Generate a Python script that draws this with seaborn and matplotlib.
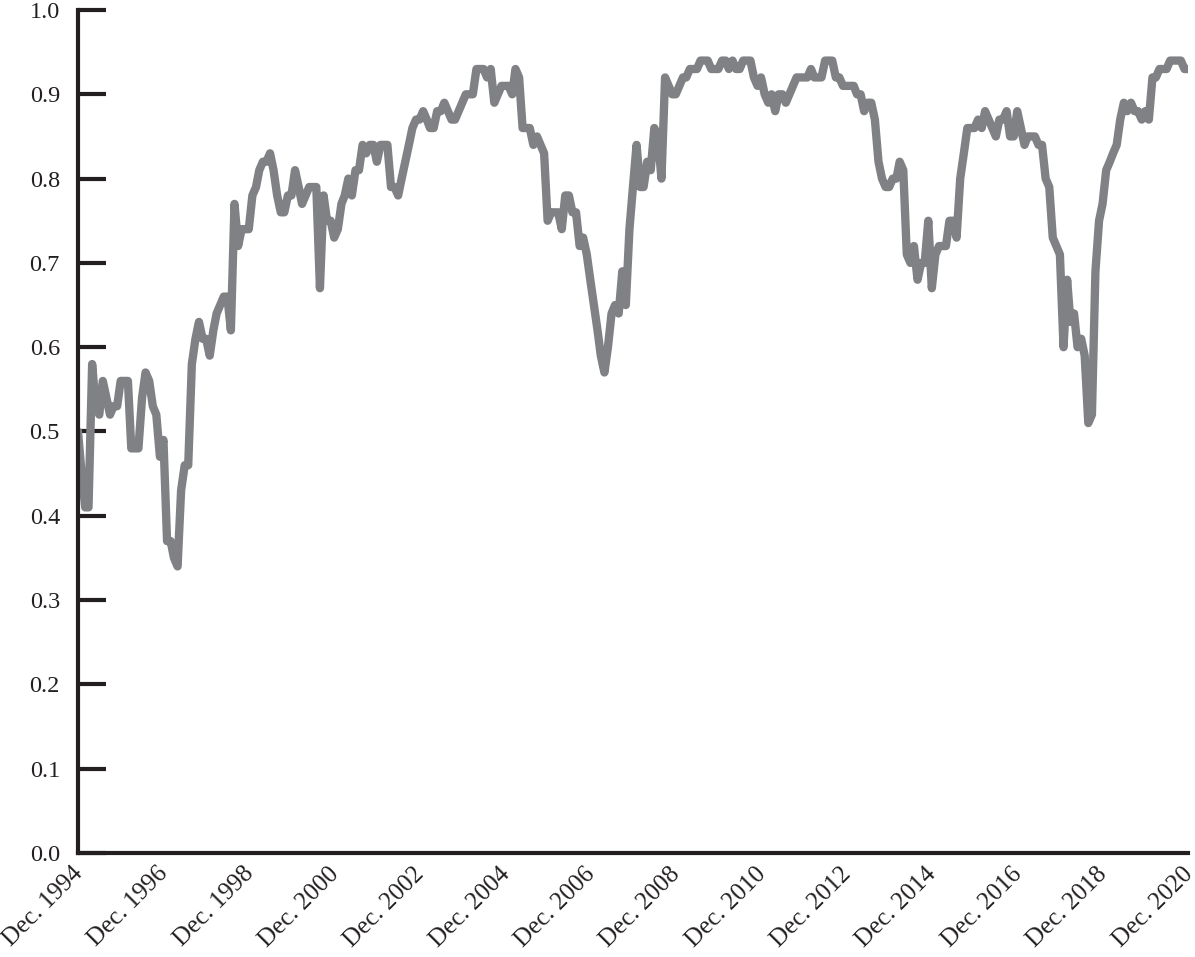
import pandas as pd
import numpy as np
import matplotlib
matplotlib.use('Agg')
import matplotlib.pyplot as plt
import matplotlib.transforms as mtransforms
import seaborn as sns

# monthly values, Dec. 1994 .. Dec. 2020
values = [
    0.50, 0.45, 0.41, 0.41, 0.58, 0.53, 0.52, 0.56, 0.54, 0.52, 0.53, 0.53,
    0.56, 0.56, 0.56, 0.48, 0.48, 0.48, 0.54, 0.57, 0.56, 0.53, 0.52, 0.47,
    0.49, 0.37, 0.37, 0.35, 0.34, 0.43, 0.46, 0.46, 0.58, 0.61, 0.63, 0.61,
    0.61, 0.59, 0.62, 0.64, 0.65, 0.66, 0.66, 0.62, 0.77, 0.72, 0.74, 0.74,
    0.74, 0.78, 0.79, 0.81, 0.82, 0.82, 0.83, 0.81, 0.78, 0.76, 0.76, 0.78,
    0.78, 0.81, 0.79, 0.77, 0.78, 0.79, 0.79, 0.79, 0.67, 0.78, 0.75, 0.75,
    0.73, 0.74, 0.77, 0.78, 0.80, 0.78, 0.81, 0.81, 0.84, 0.83, 0.84, 0.84,
    0.82, 0.84, 0.84, 0.84, 0.79, 0.79, 0.78, 0.80, 0.82, 0.84, 0.86, 0.87,
    0.87, 0.88, 0.87, 0.86, 0.86, 0.88, 0.88, 0.89, 0.88, 0.87, 0.87, 0.88,
    0.89, 0.90, 0.90, 0.90, 0.93, 0.93, 0.93, 0.92, 0.93, 0.89, 0.90, 0.91,
    0.91, 0.91, 0.90, 0.93, 0.92, 0.86, 0.86, 0.86, 0.84, 0.85, 0.84, 0.83,
    0.75, 0.76, 0.76, 0.76, 0.74, 0.78, 0.78, 0.76, 0.76, 0.72, 0.73, 0.71,
    0.68, 0.65, 0.62, 0.59, 0.57, 0.60, 0.64, 0.65, 0.64, 0.69, 0.65, 0.74,
    0.79, 0.84, 0.79, 0.79, 0.82, 0.81, 0.86, 0.85, 0.80, 0.92, 0.91, 0.90,
    0.90, 0.91, 0.92, 0.92, 0.93, 0.93, 0.93, 0.94, 0.94, 0.94, 0.93, 0.93,
    0.93, 0.94, 0.94, 0.93, 0.94, 0.93, 0.93, 0.94, 0.94, 0.94, 0.92, 0.91,
    0.92, 0.90, 0.89, 0.90, 0.88, 0.90, 0.90, 0.89, 0.90, 0.91, 0.92, 0.92,
    0.92, 0.92, 0.93, 0.92, 0.92, 0.92, 0.94, 0.94, 0.94, 0.92, 0.92, 0.91,
    0.91, 0.91, 0.91, 0.90, 0.90, 0.88, 0.89, 0.89, 0.87, 0.82, 0.80, 0.79,
    0.79, 0.80, 0.80, 0.82, 0.81, 0.71, 0.70, 0.72, 0.68, 0.70, 0.70, 0.75,
    0.67, 0.71, 0.72, 0.72, 0.72, 0.75, 0.75, 0.73, 0.80, 0.83, 0.86, 0.86,
    0.86, 0.87, 0.86, 0.88, 0.87, 0.86, 0.85, 0.87, 0.87, 0.88, 0.85, 0.85,
    0.88, 0.86, 0.84, 0.85, 0.85, 0.85, 0.84, 0.84, 0.80, 0.79, 0.73, 0.72,
    0.71, 0.60, 0.68, 0.63, 0.64, 0.60, 0.61, 0.59, 0.51, 0.52, 0.69, 0.75,
    0.77, 0.81, 0.82, 0.83, 0.84, 0.87, 0.89, 0.88, 0.89, 0.88, 0.88, 0.87,
    0.88, 0.87, 0.92, 0.92, 0.93, 0.93, 0.93, 0.94, 0.94, 0.94, 0.94, 0.93,
    0.93,
]
dates = pd.date_range('1994-12-01', periods=len(values), freq='MS')

tick_years = list(range(1994, 2021, 2))
tick_labels = [f'Dec. {y}' for y in tick_years]
y_ticks = [0.0, 0.1, 0.2, 0.3, 0.4, 0.5, 0.6, 0.7, 0.8, 0.9, 1.0]

df = pd.DataFrame({'date': dates, 'value': values})

sns.set_theme(style='white')
plt.rcParams['font.family'] = ['Liberation Serif', 'DejaVu Serif']

ink = '#231f20'

fig = plt.figure(figsize=(11.95, 9.57), dpi=100)
ax = fig.add_axes([78 / 1195, 1 - 853 / 957, 1110 / 1195, 843 / 957])

sns.lineplot(data=df, x='date', y='value', ax=ax, color='#808184',
             linewidth=6.0, solid_joinstyle='round', solid_capstyle='round')

ax.set_xlim(dates[0], dates[-1])
ax.set_ylim(0, 1.0)
ax.set_xlabel('')
ax.set_ylabel('')

ax.set_yticks(y_ticks)
ax.set_yticklabels([f'{v:.1f}' for v in y_ticks])
ax.set_xticks([pd.Timestamp(f'{y}-12-01') for y in tick_years])
ax.set_xticklabels(tick_labels)

for s in ['top', 'right']:
    ax.spines[s].set_visible(False)
for s in ['left', 'bottom']:
    ax.spines[s].set_color(ink)
    ax.spines[s].set_linewidth(3.0)
    ax.spines[s].set_capstyle('projecting')

ax.tick_params(axis='y', direction='in', length=20, width=3.0, color=ink,
               labelsize=17.5, labelcolor=ink, pad=13, left=True)
ax.tick_params(axis='x', length=0, labelsize=18, labelcolor=ink, pad=7,
               bottom=True)

offset = mtransforms.ScaledTranslation(9 / 100, 0, fig.dpi_scale_trans)
for lbl in ax.get_xticklabels():
    lbl.set_rotation(45)
    lbl.set_ha('right')
    lbl.set_va('top')
    lbl.set_transform(lbl.get_transform() + offset)

ax.grid(False)
fig.savefig('out.png', dpi=100)
